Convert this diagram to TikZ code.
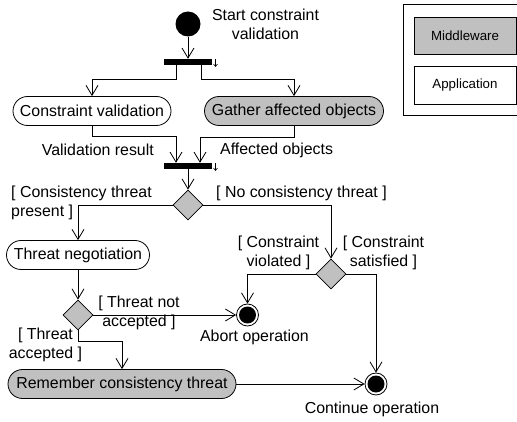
\documentclass[tikz,border=0pt]{standalone}
\usepackage{fontspec}
\setmainfont{Liberation Sans}
\usetikzlibrary{shapes.geometric,arrows.meta}
\definecolor{mwgray}{RGB}{192,192,192}

\begin{document}
\begin{tikzpicture}[x=1pt,y=-1pt,
        font=\fontsize{15.9pt}{19pt}\selectfont,
        action/.style={draw,rectangle,rounded corners=14.5pt,minimum height=29pt,
            inner sep=0pt,line width=0.8pt},
        bar/.style={fill=black,minimum width=48pt,minimum height=6pt,inner sep=0pt},
        decision/.style={draw,diamond,fill=mwgray,minimum width=30pt,minimum height=30pt,
            inner sep=0pt,line width=0.8pt},
        startnode/.style={circle,fill=black,minimum size=25pt,inner sep=0pt},
        endnode/.style={circle,draw,fill=white,minimum size=22pt,inner sep=0pt,line width=0.8pt,
            path picture={\fill[black] (path picture bounding box.center) circle (8.5pt);}},
        flow/.style={draw,line width=0.8pt,-{Straight Barb[length=10pt,width=12pt]}},
        tick/.style={draw,line width=0.6pt,-{Straight Barb[length=2.5pt,width=4pt]}},
        guard/.style={align=center,inner sep=0pt},
        legendbox/.style={draw,minimum width=102pt,inner sep=0pt,line width=0.8pt,
            font=\fontsize{13.3pt}{15pt}\selectfont}
        ]
        \useasboundingbox (0,0) rectangle (517,422);

        % Start and fork
        \node[startnode] (start) at (188,24) {};
        \node[guard] (startlbl) at (265.5,24) {Start constraint\\validation};
        \node[bar] (fork) at (188,62) {};
        \draw[tick] (215.5,59) -- ++(0,8);
        \draw[flow] (start) -- (fork);

        % Parallel actions
        \node[action,minimum width=158pt] (cval) at (92,111) {Constraint validation};
        \node[action,fill=mwgray,minimum width=179pt] (gather) at (294,111) {Gather affected objects};
        \draw[flow] ([xshift=-12pt]fork.south) -- ++(0,14) -| (cval);
        \draw[flow] ([xshift=13pt]fork.south) -- ++(0,14) -| (gather);

        % Join
        \node[bar] (join) at (188,166) {};
        \draw[tick] (215.5,163) -- ++(0,8);
        \draw[flow] (cval) -- ++(0,25) -| ([xshift=-12pt]join.north);
        \draw[flow] (gather) -- ++(0,26) -| ([xshift=12pt]join.north);
        \node[anchor=east,inner sep=0pt] (vres) at (154,150) {Validation result};
        \node[anchor=west,inner sep=0pt] (aobj) at (220,150) {Affected objects};

        %% Consistency threat check
        \node[decision] (dec1) at (188,205) {};
        \draw[flow] (join) -- (dec1);
        \node[guard,align=left,anchor=west] (g1) at (11,203) {[ Consistency threat\\present ]};
        \node[guard,anchor=west] (g2) at (216,193) {[ No consistency threat ]};

        \node[action,minimum width=143pt] (neg) at (78,255) {Threat negotiation};
        \draw[flow] (dec1.west) -| (neg);

        \node[decision] (dec2) at (331,274) {};
        \draw[flow] (dec1.east) -| (dec2);
        \node[guard] (g3) at (278.5,253) {[ Constraint\\violated ]};
        \node[guard] (g4) at (383.5,253) {[ Constraint\\satisfied ]};

        %% Negotiation outcome
        \node[decision] (dec3) at (78,315) {};
        \draw[flow] (neg) -- (dec3);
        \node[guard] (g5) at (139,313) {[ Threat not\\accepted ]};
        \node[guard] (g6) at (45.5,345) {[ Threat\\accepted ]};

        \node[endnode] (abort) at (247.5,315) {};
        \node[inner sep=0pt] (abortlbl) at (254.5,337) {Abort operation};
        \draw[flow] (dec3) -- (abort);
        \draw[flow] (dec2.west) -| (abort);

        \node[action,fill=mwgray,minimum width=228pt] (rem) at (122,384) {Remember consistency threat};
        \draw[flow] (dec3.south) -- ++(0,11) -| (rem);

        \node[endnode] (cont) at (376,384) {};
        \node[inner sep=0pt] (contlbl) at (372,409) {Continue operation};
        \draw[flow] (rem) -- (cont);
        \draw[flow] (dec2.east) -| (cont);

        % Legend
        \draw[line width=0.8pt] (403,4) rectangle (530,115);
        \node[legendbox,fill=mwgray,minimum height=37pt] (mw) at (465,35.5) {Middleware};
        \node[legendbox,minimum height=38pt] (app) at (465,85) {Application};

    \end{tikzpicture}
\end{document}
